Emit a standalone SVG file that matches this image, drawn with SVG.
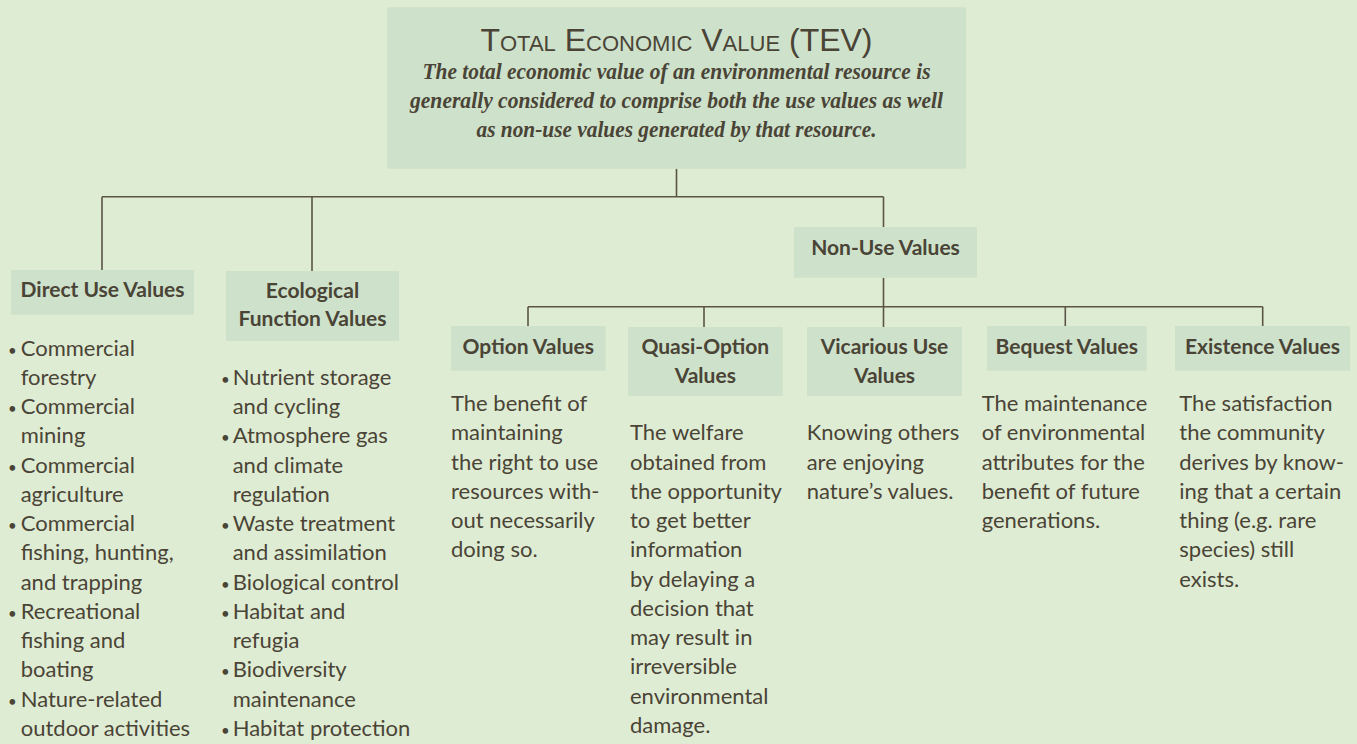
<svg xmlns="http://www.w3.org/2000/svg" width="1357" height="744" viewBox="0 0 1357 744">
<style>
.bg{fill:#dfecd4}
.box{fill:#cee1cb}
.ln{stroke:#5a5446;stroke-width:1.6;fill:none}
.title{font-family:"Liberation Sans","Noto Sans",sans-serif;font-size:32px;font-variant:small-caps;fill:#4a4436;text-anchor:middle}
.lead{font-family:"Liberation Serif",serif;font-style:italic;font-weight:bold;font-size:23px;fill:#4a4436;text-anchor:middle}
.hd{font-family:Lato,"Liberation Sans",sans-serif;font-weight:bold;font-size:21px;fill:#4a4436;text-anchor:middle}
.tx{font-family:Lato,"Liberation Sans",sans-serif;font-size:22px;fill:#4a4436}
.bu{font-size:15px}
</style>
<rect class="bg" x="0" y="0" width="1357" height="744"/>
<g id="connectors">
<path class="ln" d="M676.5 168.7V196.7M102 196.7H883.5M102 196.7V270M312 196.7V271M883.5 196.7V227"/>
<path class="ln" d="M883.5 277.7V327M528 306.7H1262.7M528 306.7V326M704 306.7V327M1065.3 306.7V326M1262.7 306.7V326"/>
</g>
<g id="tev">
<rect class="box" x="387.3" y="7.3" width="578.7" height="161.4"/>
<text class="title" x="676.5" y="50.7">Total Economic Value (TEV)</text>
<text class="lead" x="676.5" y="79" textLength="508" lengthAdjust="spacingAndGlyphs">The total economic value of an environmental resource is</text>
<text class="lead" x="676.5" y="108" textLength="533" lengthAdjust="spacingAndGlyphs">generally considered to comprise both the use values as well</text>
<text class="lead" x="676.5" y="137" textLength="400" lengthAdjust="spacingAndGlyphs">as non-use values generated by that resource.</text>
</g>
<g id="direct">
<rect class="box" x="11" y="270" width="183" height="44.7"/>
<text class="hd" x="102.5" y="296.7">Direct Use Values</text>
<text class="tx">
<tspan class="bu" x="8" y="355.5">•</tspan><tspan x="20.7" y="355.5">Commercial</tspan>
<tspan x="20.7" y="384.75">forestry</tspan>
<tspan class="bu" x="8" y="414">•</tspan><tspan x="20.7" y="414">Commercial</tspan>
<tspan x="20.7" y="443.25">mining</tspan>
<tspan class="bu" x="8" y="472.5">•</tspan><tspan x="20.7" y="472.5">Commercial</tspan>
<tspan x="20.7" y="501.75">agriculture</tspan>
<tspan class="bu" x="8" y="531">•</tspan><tspan x="20.7" y="531">Commercial</tspan>
<tspan x="20.7" y="560.25">fishing, hunting,</tspan>
<tspan x="20.7" y="589.5">and trapping</tspan>
<tspan class="bu" x="8" y="618.75">•</tspan><tspan x="20.7" y="618.75">Recreational</tspan>
<tspan x="20.7" y="648">fishing and</tspan>
<tspan x="20.7" y="677.25">boating</tspan>
<tspan class="bu" x="8" y="706.5">•</tspan><tspan x="20.7" y="706.5">Nature-related</tspan>
<tspan x="20.7" y="735.75">outdoor activities</tspan>
</text>
</g>
<g id="ecological">
<rect class="box" x="226" y="271" width="173" height="70"/>
<text class="hd" x="312.5" y="297.7">Ecological</text>
<text class="hd" x="312.5" y="325.7">Function Values</text>
<text class="tx">
<tspan class="bu" x="221" y="384.75">•</tspan><tspan x="232.7" y="384.75">Nutrient storage</tspan>
<tspan x="232.7" y="414">and cycling</tspan>
<tspan class="bu" x="221" y="443.25">•</tspan><tspan x="232.7" y="443.25">Atmosphere gas</tspan>
<tspan x="232.7" y="472.5">and climate</tspan>
<tspan x="232.7" y="501.75">regulation</tspan>
<tspan class="bu" x="221" y="531">•</tspan><tspan x="232.7" y="531">Waste treatment</tspan>
<tspan x="232.7" y="560.25">and assimilation</tspan>
<tspan class="bu" x="221" y="589.5">•</tspan><tspan x="232.7" y="589.5">Biological control</tspan>
<tspan class="bu" x="221" y="618.75">•</tspan><tspan x="232.7" y="618.75">Habitat and</tspan>
<tspan x="232.7" y="648">refugia</tspan>
<tspan class="bu" x="221" y="677.25">•</tspan><tspan x="232.7" y="677.25">Biodiversity</tspan>
<tspan x="232.7" y="706.5">maintenance</tspan>
<tspan class="bu" x="221" y="735.75">•</tspan><tspan x="232.7" y="735.75">Habitat protection</tspan>
</text>
</g>
<g id="nonuse">
<rect class="box" x="794" y="227" width="183" height="50.7"/>
<text class="hd" x="885.5" y="255">Non-Use Values</text>
</g>
<g id="option">
<rect class="box" x="451" y="326" width="154.7" height="44.7"/>
<text class="hd" x="528.3" y="354">Option Values</text>
<text class="tx">
<tspan x="451" y="411">The benefit of</tspan>
<tspan x="451" y="440.25">maintaining</tspan>
<tspan x="451" y="469.5">the right to use</tspan>
<tspan x="451" y="498.75">resources with-</tspan>
<tspan x="451" y="528">out necessarily</tspan>
<tspan x="451" y="557.25">doing so.</tspan>
</text>
</g>
<g id="quasi">
<rect class="box" x="628" y="327" width="154.7" height="69"/>
<text class="hd" x="705.3" y="354">Quasi-Option</text>
<text class="hd" x="705.3" y="383">Values</text>
<text class="tx">
<tspan x="630" y="440.25">The welfare</tspan>
<tspan x="630" y="469.5">obtained from</tspan>
<tspan x="630" y="498.75">the opportunity</tspan>
<tspan x="630" y="528">to get better</tspan>
<tspan x="630" y="557.25">information</tspan>
<tspan x="630" y="586.5">by delaying a</tspan>
<tspan x="630" y="615.75">decision that</tspan>
<tspan x="630" y="645">may result in</tspan>
<tspan x="630" y="674.25">irreversible</tspan>
<tspan x="630" y="703.5">environmental</tspan>
<tspan x="630" y="732.75">damage.</tspan>
</text>
</g>
<g id="vicarious">
<rect class="box" x="807" y="327" width="155" height="69"/>
<text class="hd" x="884.5" y="354">Vicarious Use</text>
<text class="hd" x="884.5" y="383">Values</text>
<text class="tx">
<tspan x="806.7" y="440.25">Knowing others</tspan>
<tspan x="806.7" y="469.5">are enjoying</tspan>
<tspan x="806.7" y="498.75">nature’s values.</tspan>
</text>
</g>
<g id="bequest">
<rect class="box" x="987" y="326" width="159.7" height="44.7"/>
<text class="hd" x="1066.8" y="354">Bequest Values</text>
<text class="tx">
<tspan x="981.7" y="411">The maintenance</tspan>
<tspan x="981.7" y="440.25">of environmental</tspan>
<tspan x="981.7" y="469.5">attributes for the</tspan>
<tspan x="981.7" y="498.75">benefit of future</tspan>
<tspan x="981.7" y="528">generations.</tspan>
</text>
</g>
<g id="existence">
<rect class="box" x="1175" y="326" width="175" height="44.7"/>
<text class="hd" x="1262.5" y="354">Existence Values</text>
<text class="tx">
<tspan x="1179.3" y="411">The satisfaction</tspan>
<tspan x="1179.3" y="440.25">the community</tspan>
<tspan x="1179.3" y="469.5">derives by know-</tspan>
<tspan x="1179.3" y="498.75">ing that a certain</tspan>
<tspan x="1179.3" y="528">thing (e.g. rare</tspan>
<tspan x="1179.3" y="557.25">species) still</tspan>
<tspan x="1179.3" y="586.5">exists.</tspan>
</text>
</g>
</svg>
